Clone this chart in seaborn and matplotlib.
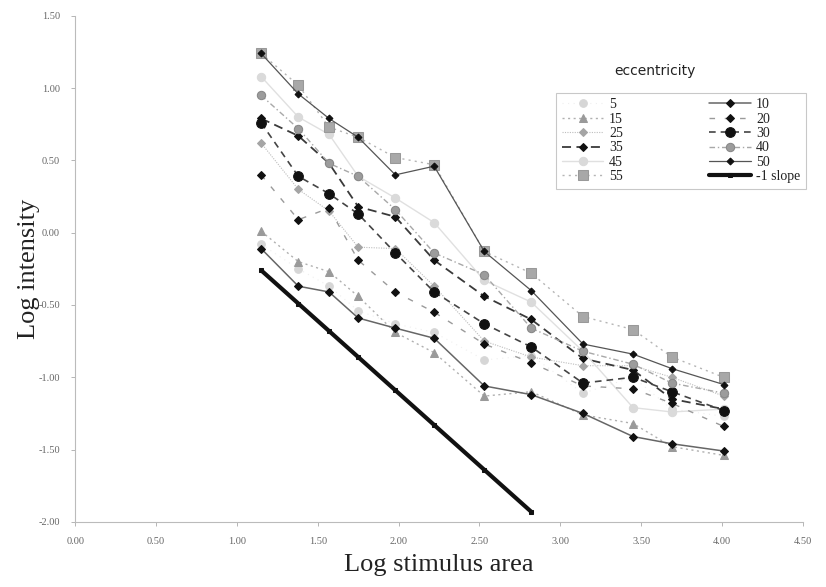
import matplotlib
matplotlib.use("Agg")
import matplotlib.pyplot as plt
import seaborn as sns
import pandas as pd

sns.set_theme(style="white")
plt.rcParams['font.family'] = ['Liberation Serif', 'DejaVu Serif']

# ---- data ----
log_area = [1.15, 1.38, 1.57, 1.75, 1.98, 2.22, 2.53, 2.82, 3.14, 3.45, 3.69, 4.01]
ecc_5  = [-0.08, -0.25, -0.37, -0.54, -0.63, -0.69, -0.88, -0.85, -1.11, -1.00, -1.22, -1.27]
ecc_10 = [-0.11, -0.37, -0.41, -0.59, -0.66, -0.73, -1.06, -1.12, -1.25, -1.41, -1.46, -1.51]
ecc_15 = [0.01, -0.20, -0.27, -0.44, -0.69, -0.83, -1.13, -1.10, -1.26, -1.32, -1.48, -1.54]
ecc_20 = [0.40, 0.09, 0.17, -0.19, -0.41, -0.55, -0.77, -0.90, -1.06, -1.08, -1.18, -1.34]
ecc_25 = [0.62, 0.30, 0.15, -0.10, -0.11, -0.37, -0.75, -0.86, -0.92, -0.92, -1.00, -1.13]
ecc_30 = [0.76, 0.39, 0.27, 0.13, -0.14, -0.41, -0.63, -0.79, -1.04, -1.00, -1.10, -1.23]
ecc_35 = [0.79, 0.67, 0.48, 0.18, 0.11, -0.19, -0.44, -0.60, -0.87, -0.95, -1.15, -1.22]
ecc_40 = [0.95, 0.72, 0.48, 0.39, 0.16, -0.14, -0.29, -0.66, -0.82, -0.91, -1.04, -1.11]
ecc_45 = [1.08, 0.80, 0.68, 0.39, 0.24, 0.07, -0.33, -0.48, -0.82, -1.21, -1.24, -1.22]
ecc_50 = [1.24, 0.96, 0.79, 0.66, 0.40, 0.46, -0.13, -0.40, -0.77, -0.84, -0.94, -1.05]
ecc_55 = [1.24, 1.02, 0.73, 0.66, 0.52, 0.47, -0.13, -0.28, -0.58, -0.67, -0.86, -1.00]
slope_x = [1.15, 1.38, 1.57, 1.75, 1.98, 2.22, 2.53, 2.82]
slope_y = [-0.26, -0.49, -0.68, -0.86, -1.09, -1.33, -1.64, -1.93]

x_ticks = [0.0, 0.5, 1.0, 1.5, 2.0, 2.5, 3.0, 3.5, 4.0, 4.5]
y_ticks = [-2.0, -1.5, -1.0, -0.5, 0.0, 0.5, 1.0, 1.5]

series = [
    ("5", ecc_5), ("15", ecc_15), ("25", ecc_25), ("35", ecc_35), ("45", ecc_45), ("55", ecc_55),
    ("10", ecc_10), ("20", ecc_20), ("30", ecc_30), ("40", ecc_40), ("50", ecc_50),
]

styles = {
    "5":  dict(color="#efefef", linestyle=(0, (1, 4)), lw=0.8, marker="o", ms=5.5, mfc="#d6d6d6", mec="#d6d6d6"),
    "15": dict(color="#b0b0b0", linestyle=(0, (1.5, 2.5)), lw=1.0, marker="^", ms=5.5, mfc="#9a9a9a", mec="#9a9a9a"),
    "25": dict(color="#bdbdbd", linestyle=(0, (1, 1.2)), lw=0.8, marker="D", ms=4.5, mfc="#a5a5a5", mec="#a5a5a5"),
    "35": dict(color="#3a3a3a", linestyle=(0, (5, 3)), lw=1.3, marker="D", ms=4.5, mfc="#111111", mec="#111111"),
    "45": dict(color="#e0e0e0", linestyle="-", lw=1.0, marker="o", ms=6, mfc="#dadada", mec="#dadada"),
    "55": dict(color="#b5b5b5", linestyle=(0, (1.5, 3)), lw=1.0, marker="s", ms=6.5, mfc="#a8a8a8", mec="#999999"),
    "10": dict(color="#666666", linestyle="-", lw=1.1, marker="D", ms=4.5, mfc="#111111", mec="#111111"),
    "20": dict(color="#9a9a9a", linestyle=(0, (4, 7)), lw=1.0, marker="D", ms=4.5, mfc="#111111", mec="#111111"),
    "30": dict(color="#444444", linestyle=(0, (4, 3)), lw=1.2, marker="o", ms=7, mfc="#111111", mec="#111111"),
    "40": dict(color="#a8a8a8", linestyle=(0, (4, 2, 1, 2)), lw=1.0, marker="o", ms=6, mfc="#9c9c9c", mec="#888888"),
    "50": dict(color="#555555", linestyle="-", lw=0.9, marker="D", ms=3.5, mfc="#111111", mec="#111111"),
}

fig = plt.figure(figsize=(8.26, 5.87), dpi=100)
ax = fig.add_axes([0.091, 0.111, 0.881, 0.862])

for name, vals in series:
    df = pd.DataFrame({"x": log_area, "y": vals})
    sns.lineplot(data=df, x="x", y="y", ax=ax, label=name, sort=False, **styles[name])

df_s = pd.DataFrame({"x": slope_x, "y": slope_y})
sns.lineplot(data=df_s, x="x", y="y", ax=ax, label="-1 slope", sort=False,
             color="#111111", lw=3.0, marker="s", ms=3.5, mfc="#111111", mec="#111111")

ax.set_xlim(0, 4.5)
ax.set_ylim(-2.0, 1.5)
ax.set_xticks(x_ticks)
ax.set_yticks(y_ticks)
ax.set_xticklabels([f"{t:.2f}" for t in x_ticks])
ax.set_yticklabels([f"{t:.2f}" for t in y_ticks])
ax.tick_params(axis="both", which="both", length=3, width=0.6, color="#aaaaaa",
               labelsize=7.5, labelcolor="#666666", direction="out", bottom=True, left=True, pad=8)
for s in ["top", "right"]:
    ax.spines[s].set_visible(False)
for s in ["left", "bottom"]:
    ax.spines[s].set_color("#bbbbbb")
    ax.spines[s].set_linewidth(0.8)
ax.grid(False)

ax.set_xlabel("Log stimulus area", fontsize=19, color="#222222", labelpad=6)
ax.set_ylabel("Log intensity", fontsize=19, color="#222222", labelpad=-1)

leg = ax.legend(ncol=2, loc="upper left", bbox_to_anchor=(0.661, 0.848), frameon=True,
                fontsize=10, handlelength=3.0, handletextpad=0.4, columnspacing=6.2,
                labelspacing=0.1, borderpad=0.4, borderaxespad=0.0,
                fancybox=False, edgecolor="#bbbbbb")
leg.get_frame().set_linewidth(0.8)
for t in leg.get_texts():
    t.set_color("#222222")

fig.text(0.793, 0.873, "eccentricity", fontsize=10, family=["DejaVu Sans"], color="#222222", ha="center")

fig.savefig("out.png", dpi=100, facecolor="white")
